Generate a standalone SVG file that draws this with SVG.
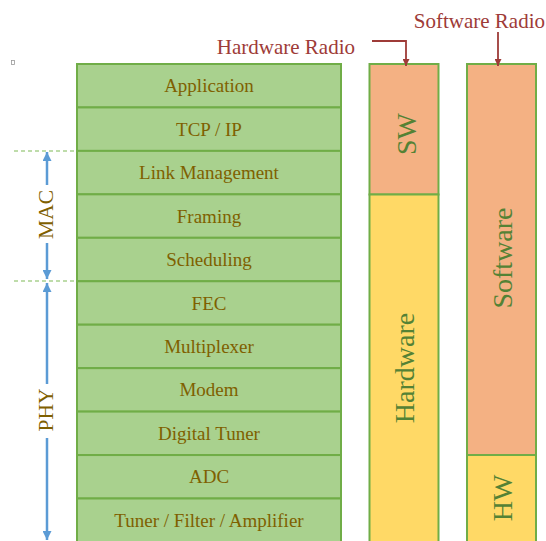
<svg xmlns="http://www.w3.org/2000/svg" width="546" height="541" viewBox="0 0 546 541">
<style>
text{font-family:'Liberation Serif','Times New Roman','DejaVu Serif',serif}
.lt{font-size:19px;fill:#7F6000;text-anchor:middle}
.ct{font-size:28px;fill:#548235;text-anchor:middle}
.side{font-size:21.5px;fill:#7F6000;text-anchor:middle}
.rl{font-size:21px;fill:#9E3B38}
.layer{fill:#A9D18E;stroke:#70AD47;stroke-width:2}
.sw{fill:#F4B183;stroke:#70AD47;stroke-width:2}
.hw{fill:#FFD966;stroke:#70AD47;stroke-width:2}
.blue{stroke:#5B9BD5;stroke-width:2.5;fill:none}
.red{stroke:#9E3B38;stroke-width:1.8;fill:none}
.dash{stroke:#A9D18E;stroke-width:1.5;stroke-dasharray:4,3;fill:none}
</style>
<defs>
<marker id="ab" viewBox="0 0 10 10" refX="10" refY="5" markerWidth="11" markerHeight="9" markerUnits="userSpaceOnUse" orient="auto"><path d="M0,0 L10,5 L0,10 z" fill="#5B9BD5"/></marker>
<marker id="ar" viewBox="0 0 10 10" refX="10" refY="5" markerWidth="9" markerHeight="7" markerUnits="userSpaceOnUse" orient="auto"><path d="M0,0 L10,5 L0,10 z" fill="#9E3B38"/></marker>
</defs>
<rect x="11.5" y="60.5" width="3" height="4" fill="none" stroke="#999" stroke-width="0.8"/>
<g id="stack">
<g id="n-application"><rect class="layer" x="77" y="64" width="264" height="43.45"/><text class="lt" x="209" y="92.2">Application</text></g>
<g id="n-tcpip"><rect class="layer" x="77" y="107.45" width="264" height="43.45"/><text class="lt" x="209" y="135.7">TCP / IP</text></g>
<g id="n-link"><rect class="layer" x="77" y="150.9" width="264" height="43.45"/><text class="lt" x="209" y="179.1">Link Management</text></g>
<g id="n-framing"><rect class="layer" x="77" y="194.35" width="264" height="43.45"/><text class="lt" x="209" y="222.6">Framing</text></g>
<g id="n-scheduling"><rect class="layer" x="77" y="237.8" width="264" height="43.45"/><text class="lt" x="209" y="266">Scheduling</text></g>
<g id="n-fec"><rect class="layer" x="77" y="281.25" width="264" height="43.45"/><text class="lt" x="209" y="309.5">FEC</text></g>
<g id="n-mux"><rect class="layer" x="77" y="324.7" width="264" height="43.45"/><text class="lt" x="209" y="352.9">Multiplexer</text></g>
<g id="n-modem"><rect class="layer" x="77" y="368.15" width="264" height="43.45"/><text class="lt" x="209" y="396.4">Modem</text></g>
<g id="n-dtuner"><rect class="layer" x="77" y="411.6" width="264" height="43.45"/><text class="lt" x="209" y="439.8">Digital Tuner</text></g>
<g id="n-adc"><rect class="layer" x="77" y="455.05" width="264" height="43.45"/><text class="lt" x="209" y="483.3">ADC</text></g>
<g id="n-tuner"><rect class="layer" x="77" y="498.5" width="264" height="46"/><text class="lt" x="209" y="526.7">Tuner / Filter / Amplifier</text></g>
</g>
<g id="hardware-radio">
<rect class="sw" x="369.5" y="64" width="69" height="130.5"/>
<rect class="hw" x="369.5" y="194.5" width="69" height="350"/>
<text class="ct" transform="translate(416,134) rotate(-90)">SW</text>
<text class="ct" transform="translate(414,368) rotate(-90)">Hardware</text>
</g>
<g id="software-radio">
<rect class="sw" x="467" y="64" width="69" height="391"/>
<rect class="hw" x="467" y="455" width="69" height="90"/>
<text class="ct" transform="translate(512,258) rotate(-90)">Software</text>
<text class="ct" transform="translate(512,498) rotate(-90)">HW</text>
</g>
<g id="labels">
<text class="rl" x="355" y="54" text-anchor="end">Hardware Radio</text>
<text class="rl" x="545" y="28" text-anchor="end">Software Radio</text>
<text class="side" transform="translate(53,214.5) rotate(-90)">MAC</text>
<text class="side" transform="translate(53,410) rotate(-90)">PHY</text>
</g>
<g id="connectors">
<path class="dash" d="M14,151 H77"/>
<path class="dash" d="M14,281 H77"/>
<path class="blue" d="M47,185 V152" marker-end="url(#ab)"/>
<path class="blue" d="M47,243 V279" marker-end="url(#ab)"/>
<path class="blue" d="M47,384 V283" marker-end="url(#ab)"/>
<path class="blue" d="M47,438 V540" marker-end="url(#ab)"/>
<path class="red" d="M372,41 H406 V66" marker-end="url(#ar)"/>
<path class="red" d="M498,32 V66" marker-end="url(#ar)"/>
</g>
</svg>
